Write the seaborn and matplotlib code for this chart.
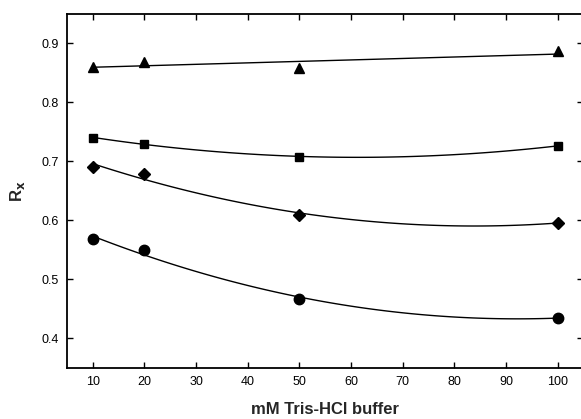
import numpy as np
import pandas as pd
import matplotlib
matplotlib.use("Agg")
import matplotlib.pyplot as plt
import seaborn as sns

# Tris-HCl buffer concentration (mM)
buffer_mM = [10, 20, 50, 100]

# Rx values for each series
rx_triangle = [0.860, 0.868, 0.857, 0.886]
rx_square = [0.740, 0.729, 0.708, 0.726]
rx_diamond = [0.690, 0.678, 0.609, 0.596]
rx_circle = [0.568, 0.549, 0.467, 0.435]

x_ticks = [10, 20, 30, 40, 50, 60, 70, 80, 90, 100]
y_ticks = [0.4, 0.5, 0.6, 0.7, 0.8, 0.9]

series = [
    ("triangle", rx_triangle, "^", 7, 1),
    ("square", rx_square, "s", 6, 2),
    ("diamond", rx_diamond, "D", 6, 2),
    ("circle", rx_circle, "o", 7.5, 2),
]

sns.set_theme(style="ticks")
plt.rcParams["font.family"] = ["Liberation Sans", "DejaVu Sans"]

fig = plt.figure(figsize=(5.81, 4.19), dpi=100)
ax = fig.add_axes([0.1153, 0.1217, 0.889, 0.846])

for name, values, marker, msize, order in series:
    df = pd.DataFrame({"buffer": buffer_mM, "rx": values})
    sns.regplot(data=df, x="buffer", y="rx", order=order, ci=None,
                scatter=False, truncate=True, ax=ax,
                line_kws={"color": "black", "lw": 1.0})
    ax.plot(df["buffer"], df["rx"], linestyle="none", marker=marker,
            markersize=msize, color="black", zorder=3)

ax.set_xlim(5, 105)
ax.set_ylim(0.35, 0.95)
ax.set_xticks(x_ticks)
ax.set_yticks(y_ticks)
ax.set_xticklabels([str(t) for t in x_ticks])
ax.set_yticklabels([f"{t:.1f}" for t in y_ticks])

ax.tick_params(direction="in", length=4, width=1, labelsize=9,
               top=True, right=True, colors="black", pad=6)
for side in ax.spines.values():
    side.set_linewidth(1.3)
    side.set_color("black")

ax.set_xlabel("mM Tris-HCl buffer", fontsize=12, fontweight="bold",
              labelpad=10)
ax.set_ylabel(r"R$_{\mathbf{x}}$", fontsize=12, fontweight="bold",
              labelpad=10)
ax.grid(False)

fig.savefig("out.png", dpi=100, facecolor="white")
